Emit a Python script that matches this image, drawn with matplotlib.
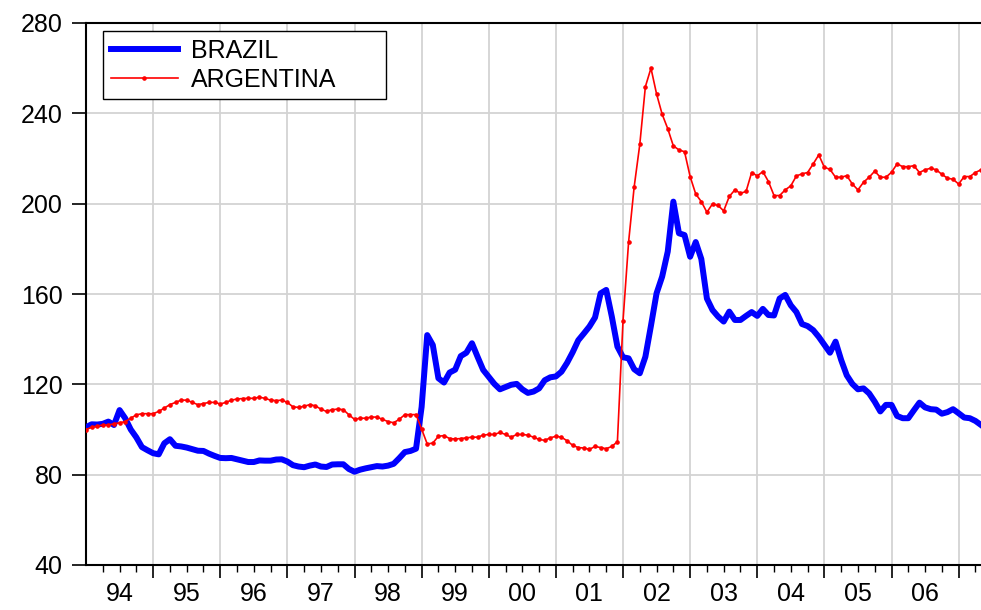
import matplotlib
matplotlib.use("Agg")
import matplotlib.pyplot as plt
import numpy as np

plt.rcParams['font.family'] = ['Liberation Sans', 'DejaVu Sans']

# Monthly index, 1994M01 .. 2007M05
brazil = [101, 102.3, 102.2, 102.5, 103.5, 102, 108.6, 105, 100, 96.5, 92.2, 90.8,
          89.5, 89, 93.9, 95.7, 92.8, 92.5, 92, 91.3, 90.6, 90.5, 89.3, 88.3,
          87.4, 87.3, 87.4, 86.8, 86.2, 85.6, 85.6, 86.3, 86.2, 86.2, 86.7, 86.8,
          85.8, 84.2, 83.6, 83.3, 84, 84.5, 83.6, 83.4, 84.5, 84.6, 84.6, 82.5,
          81.3, 82.2, 82.8, 83.3, 83.8, 83.6, 84, 84.8, 87.3, 90, 90.5, 91.5,
          110, 141.8, 137.4, 122.7, 120.8, 125.2, 126.5, 132.5, 134, 138.2, 132.2, 126.4,
          123.3, 120.2, 117.8, 118.8, 119.8, 120.2, 117.8, 116.2, 116.8, 118.2, 121.8, 123.1,
          123.5, 125.6, 129.5, 134.2, 139.5, 142.5, 145.6, 149.6, 160.3, 161.8, 150, 136.7,
          132, 131.5, 126.7, 124.9, 132.2, 146, 160.3, 167.7, 178.8, 200.9, 186.9, 186.1,
          176.5, 183, 175.5, 158, 152.9, 150, 147.8, 152.2, 148.5, 148.5, 150.3, 152,
          150.3, 153.4, 150.7, 150.5, 158, 159.6, 155, 152, 146.7, 145.8, 144, 141,
          137.5, 134, 138.9, 130.8, 124, 120.2, 117.8, 118.2, 116, 112.3, 108, 110.9,
          110.9, 106, 105, 105, 108.5, 111.9, 109.8, 109, 108.8, 107, 107.7, 109,
          107.2, 105.3, 105, 103.8, 102]

argentina = [100, 101, 101.5, 102, 102, 102.5, 103, 103.5, 105, 106.5, 107, 107,
             107, 108, 109.5, 111, 112, 113, 113, 112, 111, 111.5, 112, 112,
             111.3, 112, 113, 113.5, 113.7, 113.8, 113.8, 114.3, 113.8, 113, 112.8, 113,
             112, 110, 109.8, 110.3, 111, 110.5, 109, 108, 108.8, 109, 108.8, 106.5,
             104.5, 105, 105, 105.5, 105.5, 104.5, 103.5, 103, 104.5, 106.6, 106.6, 106.6,
             100.2, 93.6, 94, 97, 97.3, 96, 95.8, 96, 96.3, 96.6, 96.6, 97.5,
             97.8, 97.8, 98.7, 97.8, 96.6, 97.8, 97.8, 97.5, 96.6, 95.6, 95.2, 96.3,
             97, 96.6, 95, 93, 92, 91.8, 91.2, 92.5, 92, 91.5, 92.5, 94.6,
             148, 183, 207.5, 226.2, 251.8, 260, 248.6, 239.6, 233.2, 225.6, 223.8, 223,
             212, 204.3, 200.9, 196.2, 199.9, 199.2, 196.8, 203.2, 206.1, 204.6, 205.4, 213.8,
             212.3, 214.2, 209.8, 203.6, 203.6, 206.1, 207.9, 212.3, 213.2, 213.8, 217.6, 221.6,
             216.1, 215.2, 211.7, 211.7, 212.4, 208.7, 206.1, 209.5, 211.7, 214.4, 211.7, 211.7,
             213.9, 217.6, 216.4, 216.4, 216.8, 213.8, 215, 215.7, 215, 213, 211.3, 210.8,
             208.7, 212, 212, 213.8, 215]

year_labels = ['94', '95', '96', '97', '98', '99', '00', '01', '02', '03', '04', '05', '06']

t = np.arange(len(brazil))

fig = plt.figure(figsize=(9.81, 6.10), dpi=100)
ax = fig.add_axes([86 / 981, 45 / 610, (981 - 86) / 981, 542 / 610])

ax.plot(t, brazil, color='#0000ff', linewidth=4.3, solid_joinstyle='round', label='BRAZIL', zorder=3)
ax.plot(t, argentina, color='#ff0000', linewidth=1.2, marker='o', markersize=2.3,
        label='ARGENTINA', zorder=4)

ax.set_xlim(0, len(brazil) - 1)
ax.set_ylim(40, 280)

ax.set_yticks(np.arange(40, 281, 40))
ax.tick_params(axis='y', which='major', direction='out', length=10, width=1.2, pad=7, labelsize=18)

years = np.arange(12, len(brazil), 12)
ax.set_xticks(years)
ax.set_xticklabels([])
ax.set_xticks(np.arange(3, len(brazil), 3), minor=True)
ax.tick_params(axis='x', which='major', direction='out', length=9.5, width=1.2)
ax.tick_params(axis='x', which='minor', direction='out', length=5, width=1.0)

for k, lab in enumerate(year_labels):
    ax.text(12 * k + 6, -0.053, lab, transform=ax.get_xaxis_transform(),
            ha='center', va='center', fontsize=18)

ax.grid(True, which='major', color='#d3d3d3', linewidth=1.3)
ax.set_axisbelow(True)
for side in ['left', 'bottom', 'top']:
    ax.spines[side].set_linewidth(1.5)
ax.spines['right'].set_visible(False)

leg = ax.legend(loc='upper left', bbox_to_anchor=(0.019, 0.86, 0.316, 0.125), mode='expand',
                borderaxespad=0, fontsize=18, frameon=True, fancybox=False, edgecolor='black',
                handlelength=2.7, handletextpad=0.5, borderpad=0.3, labelspacing=0.2)
leg.get_frame().set_linewidth(1.0)
leg.get_frame().set_alpha(1)

fig.savefig('out.png', dpi=100)
